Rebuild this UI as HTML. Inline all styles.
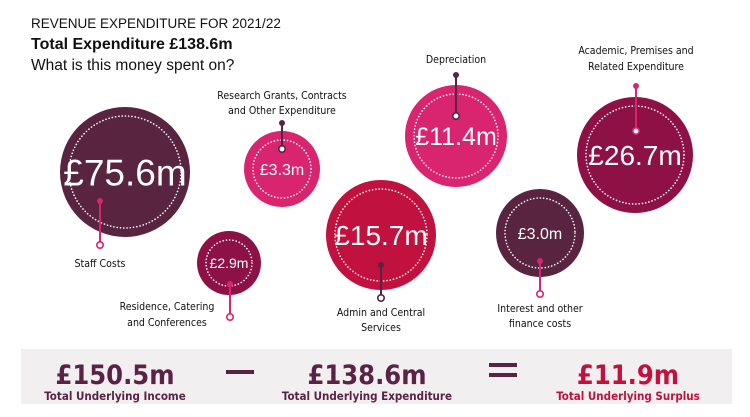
<!DOCTYPE html>
<html><head><meta charset="utf-8"><style>
body{margin:0;width:750px;height:417px;background:#fff;overflow:hidden;font-family:"Liberation Sans",sans-serif}
svg{display:block}
.lbl{font-size:10.5px;fill:#111;text-anchor:middle;font-family:"DejaVu Sans Condensed","Liberation Sans",sans-serif}
.val{fill:#fff;text-anchor:middle;font-family:"Liberation Sans",sans-serif}
</style></head><body>
<svg id="chart" width="750" height="417" viewBox="0 0 750 417">
<text x="31" y="28" font-size="13.5" fill="#111">REVENUE EXPENDITURE FOR 2021/22</text>
<text x="31" y="49" font-size="16" font-weight="bold" fill="#111">Total Expenditure £138.6m</text>
<text x="31" y="70" font-size="15.5" fill="#111">What is this money spent on?</text>
<g id="bubbles"></g>
<rect x="21" y="349" width="711" height="55" fill="#f2eff0"/>
<g font-family="'DejaVu Sans Condensed','Liberation Sans',sans-serif" font-weight="bold" text-anchor="middle">
<text x="115" y="384" font-size="27" fill="#5a2346">£150.5m</text>
<text x="115" y="400" font-size="11.5" fill="#5a2346">Total Underlying Income</text>
<rect x="226" y="370" width="28" height="4" fill="#5a2346"/>
<text x="367" y="384" font-size="27" fill="#5a2346">£138.6m</text>
<text x="367" y="400" font-size="11.5" fill="#5a2346">Total Underlying Expenditure</text>
<rect x="489" y="363" width="28" height="4" fill="#5a2346"/>
<rect x="489" y="373" width="28" height="4" fill="#5a2346"/>
<text x="628" y="384" font-size="27" fill="#c0113f">£11.9m</text>
<text x="628" y="400" font-size="11.5" fill="#c0113f">Total Underlying Surplus</text>
</g>
</svg>
<script>
const categories=["Staff Costs","Research Grants, Contracts|and Other Expenditure","Residence, Catering|and Conferences","Admin and Central|Services","Depreciation","Interest and other|finance costs","Academic, Premises and|Related Expenditure"];
const values=[75.6,3.3,2.9,15.7,11.4,3.0,26.7];
const valueLabels=["£75.6m","£3.3m","£2.9m","£15.7m","£11.4m","£3.0m","£26.7m"];
// layout (not data)
const layout=[
 {cx:125,cy:172,r:65,fill:"#58243f",fs:37,dir:1,lc:"#d9246f",d1:201,d2:245,lx:100,ly:[267],px:100},
 {cx:282,cy:169,r:38,fill:"#d9246f",fs:16,dir:-1,lc:"#58243f",d1:123,d2:149,lx:282,ly:[99,114],px:282},
 {cx:229,cy:263,r:32,fill:"#8e1146",fs:14,dir:1,lc:"#d9246f",d1:284,d2:317,lx:167,ly:[310,326],px:230},
 {cx:381,cy:235,r:55,fill:"#c0113f",fs:28,dir:1,lc:"#58243f",d1:265,d2:298,lx:381,ly:[316,331],px:381},
 {cx:456,cy:136,r:51,fill:"#d9246f",fs:25,dir:-1,lc:"#58243f",d1:75,d2:116,lx:456,ly:[63],px:456},
 {cx:540,cy:233,r:44,fill:"#58243f",fs:16,dir:1,lc:"#d9246f",d1:261,d2:294,lx:540,ly:[312,327],px:540},
 {cx:635,cy:155,r:58,fill:"#8e1146",fs:28,dir:-1,lc:"#d9246f",d1:86,d2:131,lx:636,ly:[54,70],px:636}];
const NS="http://www.w3.org/2000/svg";
const g=document.getElementById("bubbles");
function mk(t,a){const e=document.createElementNS(NS,t);for(const k in a)e.setAttribute(k,a[k]);return e;}
values.forEach((v,i)=>{
 const L=layout[i];
 const grp=mk("g",{});
 
 
 const c=mk("circle",{cx:L.cx,cy:L.cy,r:L.r,fill:L.fill});
 
 
 grp.appendChild(c);
 const ring=mk("circle",{cx:L.cx,cy:L.cy,r:L.r-9,fill:"none",stroke:"#fff","stroke-width":1.6,"stroke-dasharray":"0.1 3.2","stroke-linecap":"round"});
 
 
 grp.appendChild(ring);
 const t=mk("text",{x:L.cx,y:L.cy+L.fs*0.36,"font-size":L.fs,class:"val"});
 t.textContent=valueLabels[i];
 
 
 grp.appendChild(t);
 const ln=mk("line",{x1:L.px,y1:L.d1,x2:L.px,y2:L.d2,stroke:L.lc,"stroke-width":2});
 
 
 grp.appendChild(ln);
 const dot=mk("circle",{cx:L.px,cy:L.d1,r:3,fill:L.lc});
 
 
 grp.appendChild(dot);
 const ho=mk("circle",{cx:L.px,cy:L.d2,r:3.2,fill:"#fff",stroke:L.lc,"stroke-width":1.6});
 
 
 grp.appendChild(ho);
 categories[i].split("|").forEach((s,j)=>{
  const lt=mk("text",{x:L.lx,y:L.ly[j],class:"lbl"});
  lt.textContent=s;
  
  
  grp.appendChild(lt);
 });
 g.appendChild(grp);
});
</script>
</body></html>
